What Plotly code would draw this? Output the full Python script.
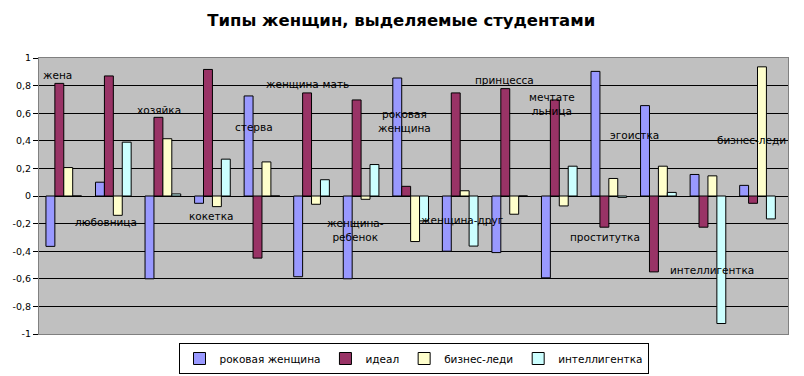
import plotly.graph_objects as go

categories = ["жена", "любовница", "хозяйка", "кокетка", "стерва", "женщина-мать",
              "женщина-ребенок", "роковая женщина", "женщина-друг", "принцесса",
              "мечтательница", "проститутка", "эгоистка", "интеллигентка", "бизнес-леди"]

series_names = ["роковая женщина", "идеал", "бизнес-леди", "интеллигентка"]
rokovaya = [-0.365, 0.10, -0.60, -0.053, 0.725, -0.585, -0.60, 0.855, -0.40, -0.41, -0.593, 0.903, 0.655, 0.156, 0.077]
ideal = [0.816, 0.87, 0.57, 0.917, -0.45, 0.747, 0.696, 0.07, 0.747, 0.778, 0.696, -0.226, -0.55, -0.226, -0.053]
biznes = [0.206, -0.14, 0.415, -0.077, 0.247, -0.06, -0.024, -0.33, 0.038, -0.132, -0.072, 0.127, 0.216, 0.146, 0.936]
intell = [0.0, 0.39, 0.015, 0.267, 0.0, 0.118, 0.228, -0.18, -0.363, 0.0, 0.216, -0.01, 0.026, -0.924, -0.166]

tick_vals = [1, 0.8, 0.6, 0.4, 0.2, 0, -0.2, -0.4, -0.6, -0.8, -1]
tick_text = ["1", "0,8", "0,6", "0,4", "0,2", "0", "-0,2", "-0,4", "-0,6", "-0,8", "-1"]

# label text, x shift (px), y position (data units)
label_text = ["жена", "любовница", "хозяйка", "кокетка", "стерва", "женщина-мать",
              "женщина-<br>ребенок", "роковая<br>женщина", "женщина-друг", "принцесса",
              "мечтате<br>льница", "проститутка", "эгоистка", "интеллигентка", "бизнес-леди"]
label_dx = [-6, -7, -4, -1, -8, -4, -6, -6, 2, -5, -7, -4, -24, 4, -6]
label_y = [0.88, -0.19, 0.62, -0.145, 0.5, 0.81, -0.245, 0.54, -0.175, 0.84, 0.67, -0.30, 0.44, -0.535, 0.405]

colors = ["#9999FF", "#993366", "#FFFFCC", "#CCFFFF"]
values = [rokovaya, ideal, biznes, intell]

FONT = "DejaVu Sans, Liberation Sans, Arial"

fig = go.Figure()
for name, vals, col in zip(series_names, values, colors):
    fig.add_trace(go.Bar(x=categories, y=vals, name=name,
                         marker=dict(color=col, line=dict(color="#000000", width=1))))

for cat, txt, dx, yy in zip(categories, label_text, label_dx, label_y):
    fig.add_annotation(x=cat, y=yy, text=txt, showarrow=False, xshift=dx,
                       font=dict(family=FONT, size=10.5, color="#000000"))

fig.update_layout(
    width=796, height=368,
    margin=dict(l=31, r=16, t=50, b=42, autoexpand=False),
    paper_bgcolor="#FFFFFF",
    plot_bgcolor="#C0C0C0",
    barmode="group",
    bargap=0.28,
    bargroupgap=0,
    title=dict(text="<b>Типы женщин, выделяемые студентами</b>", x=0.494, xanchor="center",
               y=0.967, yanchor="middle",
               font=dict(family=FONT, size=16.5, color="#000000")),
    showlegend=True,
    legend=dict(orientation="h", x=0.5, xanchor="center", y=-0.0888, yanchor="middle",
                bordercolor="#000000", borderwidth=1, bgcolor="#FFFFFF",
                font=dict(family=FONT, size=10.5, color="#000000"),
                itemwidth=30, traceorder="normal", tracegroupgap=0),
    xaxis=dict(showticklabels=False, showgrid=False, zeroline=False, ticks="",
               showline=True, linecolor="#808080", mirror=True, automargin=False),
    yaxis=dict(range=[-1, 1], tickvals=tick_vals, ticktext=tick_text,
               showgrid=True, gridcolor="#000000", gridwidth=1,
               zeroline=True, zerolinecolor="#000000", zerolinewidth=1,
               showline=True, linecolor="#808080", mirror=True, automargin=False,
               ticks="outside", ticklen=5, tickcolor="#000000",
               tickfont=dict(family=FONT, size=9.5, color="#000000")),
    font=dict(family=FONT),
)

fig.write_html("out.html")
